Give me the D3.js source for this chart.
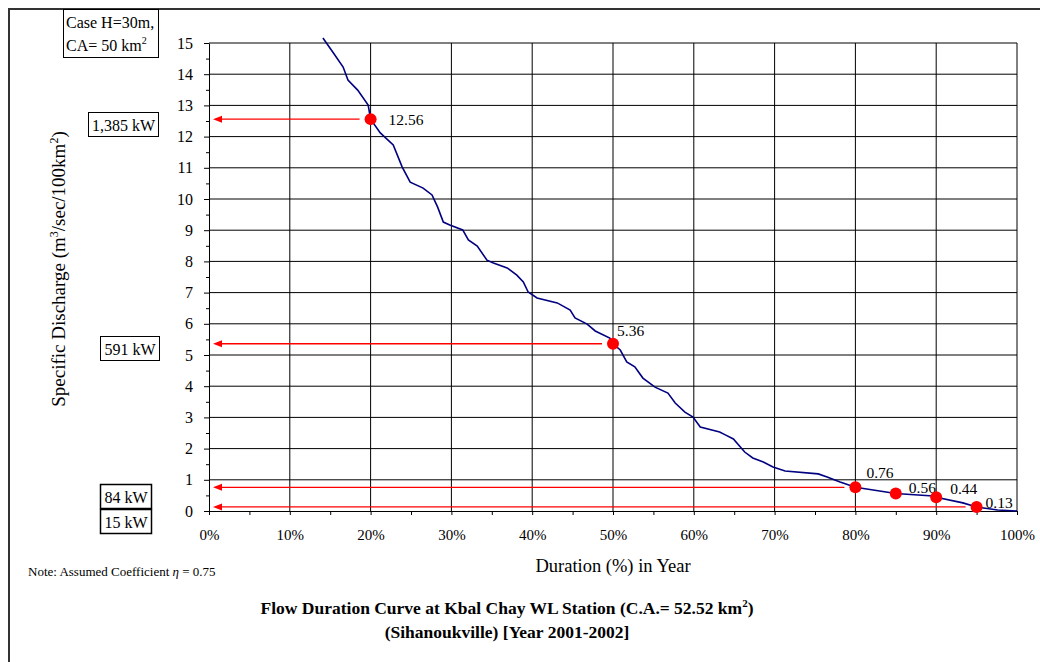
<!DOCTYPE html>
<html>
<head>
<meta charset="utf-8">
<script src="https://cdn.jsdelivr.net/npm/d3@7"></script>
<style>
    body { margin: 0; background: #fff; }
    svg text { font-family: "Liberation Serif", "Times New Roman", serif; fill: #000; }
    .axis path, .axis line { stroke: #000; }
</style>
</head>
<body>
<svg id="chart" width="1040" height="662"></svg>
<script>
// flow duration curve (duration %, specific discharge)
var duration = [14.1, 15.4, 16.6, 17.2, 18.4, 19.7, 20.0, 21.2, 22.8, 23.9, 24.9, 26.5, 27.6, 28.3, 29.0,
    29.8, 31.4, 32.1, 33.2, 34.4, 35.2, 36.9, 38.1, 38.9, 39.5, 40.6, 43.1, 44.7, 45.3, 46.8, 47.8,
    49.6, 50.0, 50.9, 51.7, 52.7, 53.7, 55.2, 56.8, 57.7, 58.9, 59.9, 60.8, 63.2, 63.9, 64.9, 66.3,
    67.3, 68.6, 69.8, 71.3, 75.4, 76.5, 78.1, 80.0, 85.0, 89.6, 90.0, 93.3, 95.0, 97.6, 100];
var discharge = [15.16, 14.68, 14.23, 13.81, 13.49, 13.01, 12.56, 12.12, 11.73, 11.03, 10.54, 10.35, 10.13, 9.74, 9.26,
    9.17, 9.01, 8.69, 8.49, 8.04, 7.95, 7.79, 7.56, 7.34, 7.02, 6.83, 6.67, 6.44, 6.19, 5.99, 5.77,
    5.54, 5.36, 5.16, 4.78, 4.62, 4.26, 3.97, 3.78, 3.46, 3.17, 3.01, 2.69, 2.53, 2.44, 2.31, 1.89,
    1.70, 1.57, 1.41, 1.28, 1.19, 1.09, 0.93, 0.76, 0.56, 0.48, 0.44, 0.26, 0.13, 0.03, 0];

// marked points
var markPct = [20, 50, 80, 85, 90, 95];
var markVal = [12.56, 5.36, 0.76, 0.56, 0.44, 0.13];

// power boxes tied to a marked value (arrow drawn from the point)
var powerVal = [12.56, 5.36, 0.76, 0.13];
var powerPct = [20, 50, 80, 95];
var powerText = ['1,385 kW', '591 kW', '84 kW', '15 kW'];

var yTicks = d3.range(0, 16, 1);
var xTicks = d3.range(0, 101, 10);

var svg = d3.select('#chart');

var x = d3.scaleLinear().domain([0, 100]).range([209, 1017]);
var y = d3.scaleLinear().domain([0, 15]).range([511, 43]);

// outer frame (only top and left edges are visible)
svg.append('path')
    .attr('d', 'M9,662 V9 H1040')
    .attr('fill', 'none')
    .attr('stroke', '#333')
    .attr('stroke-width', 2);

// grid
svg.append('g').selectAll('line').data(yTicks.slice(1)).enter().append('line')
    .attr('x1', x(0)).attr('x2', x(100))
    .attr('y1', function(d) { return y(d); })
    .attr('y2', function(d) { return y(d); })
    .attr('stroke', '#000').attr('stroke-width', 1);
svg.append('g').selectAll('line').data(xTicks.slice(1)).enter().append('line')
    .attr('y1', y(0)).attr('y2', y(15))
    .attr('x1', function(d) { return x(d); })
    .attr('x2', function(d) { return x(d); })
    .attr('stroke', '#000').attr('stroke-width', 1);

// axes
var yAxis = svg.append('g').attr('class', 'axis').attr('transform', 'translate(' + x(0) + ',0)')
    .call(d3.axisLeft(y).tickValues(yTicks).tickSize(5).tickSizeOuter(0).tickPadding(11));
yAxis.selectAll('text').style('font-size', '16px');

svg.append('g').attr('class', 'axis').attr('transform', 'translate(' + x(0) + ',0)')
    .call(d3.axisLeft(y).tickValues(d3.range(0.5, 15, 1)).tickSize(3).tickSizeOuter(0).tickFormat(''))
    .select('.domain').remove();

var xAxis = svg.append('g').attr('class', 'axis').attr('transform', 'translate(0,' + y(0) + ')')
    .call(d3.axisBottom(x).tickValues(d3.range(0, 101, 5)).tickSize(4).tickSizeOuter(0).tickPadding(14)
        .tickFormat(function(d) { return d % 10 === 0 ? d + '%' : ''; }));
xAxis.selectAll('text').style('font-size', '15px');

// axis titles
svg.append('text')
    .attr('transform', 'translate(65,269) rotate(-90)')
    .attr('text-anchor', 'middle')
    .style('font-size', '19px')
    .html('Specific Discharge (m<tspan dy="-7" font-size="12">3</tspan><tspan dy="7">/sec/100km</tspan><tspan dy="-7" font-size="12">2</tspan><tspan dy="7">)</tspan>');

svg.append('text')
    .attr('x', 613).attr('y', 572)
    .attr('text-anchor', 'middle')
    .style('font-size', '18.5px')
    .text('Duration (%) in Year');

// title
var title = svg.append('text').attr('text-anchor', 'middle').style('font-size', '17.5px').style('font-weight', 'bold');
title.append('tspan').attr('x', 507).attr('y', 614)
    .html('Flow Duration Curve at Kbal Chay WL Station (C.A.= 52.52 km<tspan dy="-7" font-size="11">2</tspan><tspan dy="7">)</tspan>');
title.append('tspan').attr('x', 507).attr('y', 638).text('(Sihanoukville) [Year 2001-2002]');

// note
svg.append('text')
    .attr('x', 28).attr('y', 576)
    .style('font-size', '13px')
    .html('Note: Assumed Coefficient <tspan font-style="italic">η</tspan> = 0.75');

// case box
svg.append('rect').attr('x', 63.5).attr('y', 9.5).attr('width', 95).attr('height', 48)
    .attr('fill', '#fff').attr('stroke', '#000');
svg.append('text').attr('x', 66).attr('y', 28).style('font-size', '16px').text('Case H=30m,');
svg.append('text').attr('x', 66).attr('y', 51).style('font-size', '16px')
    .html('CA= 50 km<tspan dy="-7" font-size="10">2</tspan>');

// arrows from marked points to the y axis
var arrows = svg.append('g');
powerVal.forEach(function(v, i) {
    var yy = y(v);
    arrows.append('line')
        .attr('x1', x(powerPct[i]) - 11).attr('x2', 220)
        .attr('y1', yy).attr('y2', yy)
        .attr('stroke', '#ff0000').attr('stroke-width', 1.3);
    arrows.append('path')
        .attr('d', 'M213,' + yy + ' L222,' + (yy - 3.5) + ' L222,' + (yy + 3.5) + ' Z')
        .attr('fill', '#ff0000');
});

// power boxes (layout: left, top, width, height)
var boxLayout = [[88.5, 112.5, 70, 24], [100.5, 336.5, 59, 24], [100.5, 484.5, 51, 24], [100.5, 509.5, 51, 24]];
powerText.forEach(function(t, i) {
    var b = boxLayout[i];
    svg.append('rect').attr('x', b[0]).attr('y', b[1]).attr('width', b[2]).attr('height', b[3])
        .attr('fill', '#fff').attr('stroke', '#000').attr('stroke-width', i >= 2 ? 1.5 : 1);
    svg.append('text').attr('x', b[0] + b[2] / 2).attr('y', b[1] + 18)
        .attr('text-anchor', 'middle').style('font-size', '16px').text(t);
});

// curve
var line = d3.line()
    .x(function(d, i) { return x(duration[i]); })
    .y(function(d, i) { return y(discharge[i]); });
svg.append('path')
    .datum(duration)
    .attr('d', line)
    .attr('fill', 'none')
    .attr('stroke', '#000080')
    .attr('stroke-width', 1.6);

// marked points and labels
var labelOffset = [[18, 6], [4, -8], [11, -9], [13, -1], [14, -3], [9, 1]];
markPct.forEach(function(p, i) {
    svg.append('circle')
        .attr('cx', x(p)).attr('cy', y(markVal[i])).attr('r', 6)
        .attr('fill', '#ff0000');
    svg.append('text')
        .attr('x', x(p) + labelOffset[i][0]).attr('y', y(markVal[i]) + labelOffset[i][1])
        .style('font-size', '15.5px')
        .text(markVal[i].toFixed(2));
});
</script>
</body>
</html>
